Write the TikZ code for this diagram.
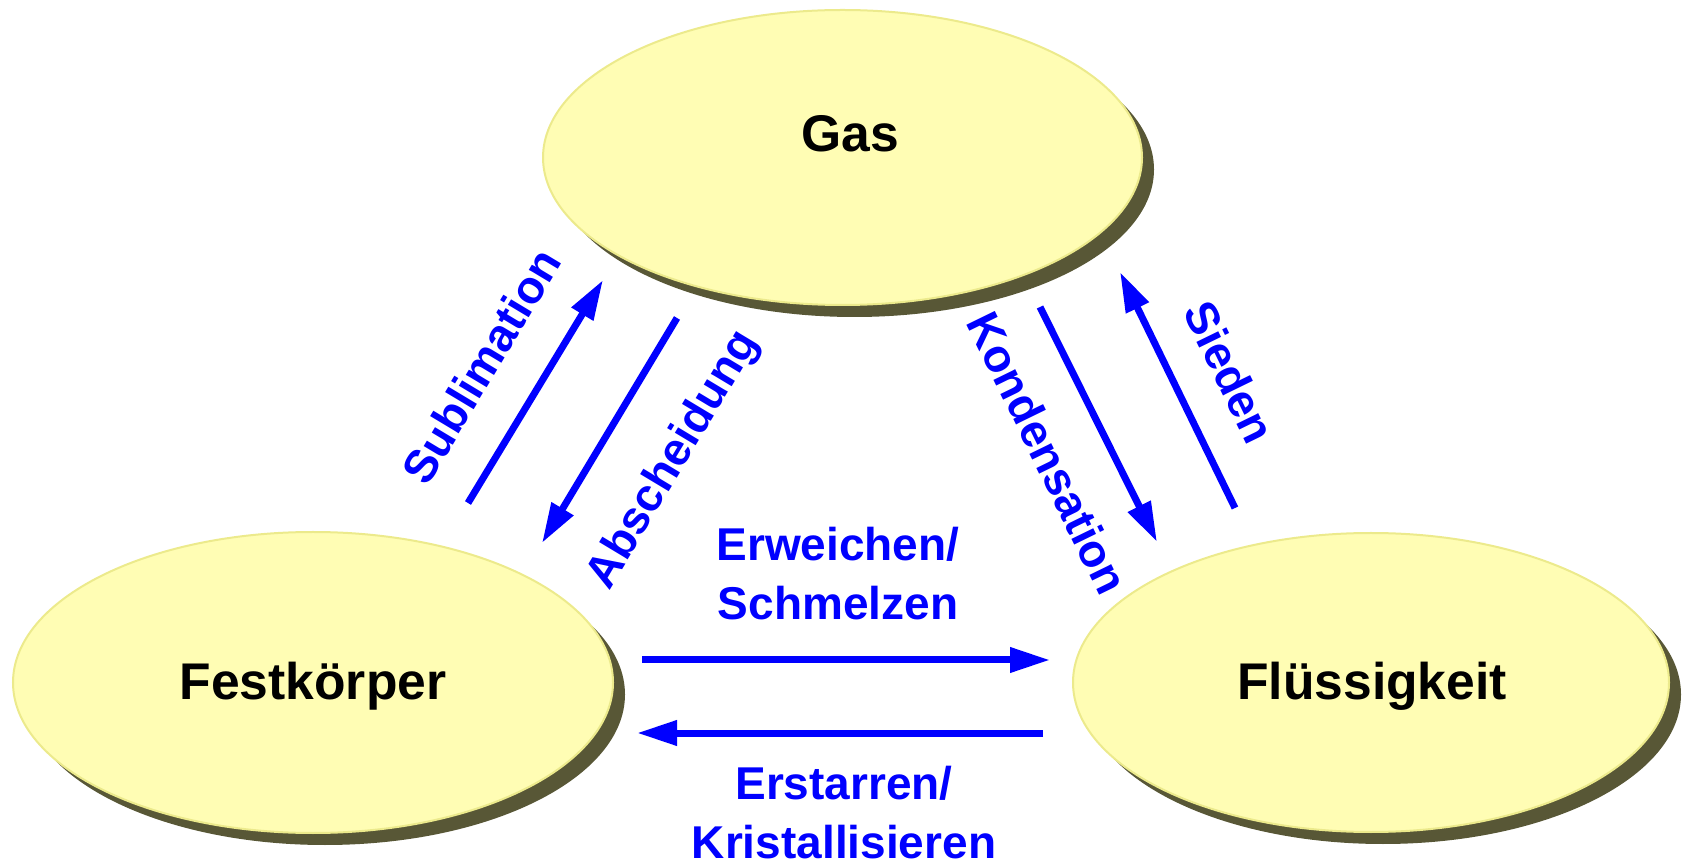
\documentclass[tikz,border=0pt]{standalone}
\usepackage{fontspec}
\setmainfont{Liberation Sans}
\usetikzlibrary{shapes.geometric,shadows,arrows.meta}
\definecolor{elfill}{RGB}{255,253,180}
\definecolor{elrim}{RGB}{236,234,140}
\definecolor{elshadow}{RGB}{88,87,54}
\definecolor{arrblue}{RGB}{0,0,255}
\begin{document}
\begin{tikzpicture}[x=0.5pt,y=-0.5pt,
  phase/.style={ellipse, fill=elfill, draw=elrim, line width=1pt, inner sep=0pt,
    drop shadow={shadow xshift=6pt, shadow yshift=-6pt, fill=elshadow, opacity=1}},
  phaselabel/.style={font=\fontsize{25.8}{30}\selectfont\bfseries, text height=18.5pt, text depth=0pt, inner sep=0pt},
  proclabel/.style={font=\fontsize{23}{29}\selectfont\bfseries, text=arrblue, text height=16.5pt, text depth=0pt, inner sep=0pt},
  twolabel/.style={font=\fontsize{23}{29.5}\selectfont\bfseries, text=arrblue, align=center, inner sep=0pt},
  flow/.style={draw=arrblue, line width=3.5pt, -{Triangle[length=20pt,width=12pt]}}]
\useasboundingbox (0,0) rectangle (1687,865);
% phases
\node[phase, minimum width=299.5pt, minimum height=147.5pt] (gas) at (842.5,157.5) {};
\node[phase, minimum width=300pt, minimum height=150.5pt] (fest) at (313,682.5) {};
\node[phase, minimum width=298pt, minimum height=149.5pt] (fluss) at (1371,682.5) {};
\node[phaselabel] (gasT) at (850,133.5) {Gas};
\node[phaselabel] (festT) at (313,680.5) {Festkörper};
\node[phaselabel] (flussT) at (1372,680.5) {Flüssigkeit};
% arrow ends
\coordinate (subS) at (468,503);  \coordinate (subE) at (603,280);
\coordinate (absS) at (677,318);  \coordinate (absE) at (542,543);
\coordinate (konS) at (1040,307); \coordinate (konE) at (1157,542);
\coordinate (sieS) at (1235,508); \coordinate (sieE) at (1120,272);
\coordinate (schS) at (642,660);  \coordinate (schE) at (1050,660);
\coordinate (ersS) at (1043,733); \coordinate (ersE) at (637,733);
\draw[flow] (subS) -- (subE);
\draw[flow] (absS) -- (absE);
\draw[flow] (konS) -- (konE);
\draw[flow] (sieS) -- (sieE);
\draw[flow] (schS) -- (schE);
\draw[flow] (ersS) -- (ersE);
% process labels
\node[proclabel, rotate=59] (sublT) at (481,366) {Sublimation};
\node[proclabel, rotate=59] (abschT) at (670,458) {Abscheidung};
\node[proclabel, rotate=-64] (kondT) at (1048,453) {Kondensation};
\node[proclabel, rotate=-64] (siedT) at (1230,372) {Sieden};
\node[twolabel] (schmT) at (838,574) {Erweichen/\\Schmelzen};
\node[twolabel] (erstT) at (844,813) {Erstarren/\\Kristallisieren};
\end{tikzpicture}
\end{document}
